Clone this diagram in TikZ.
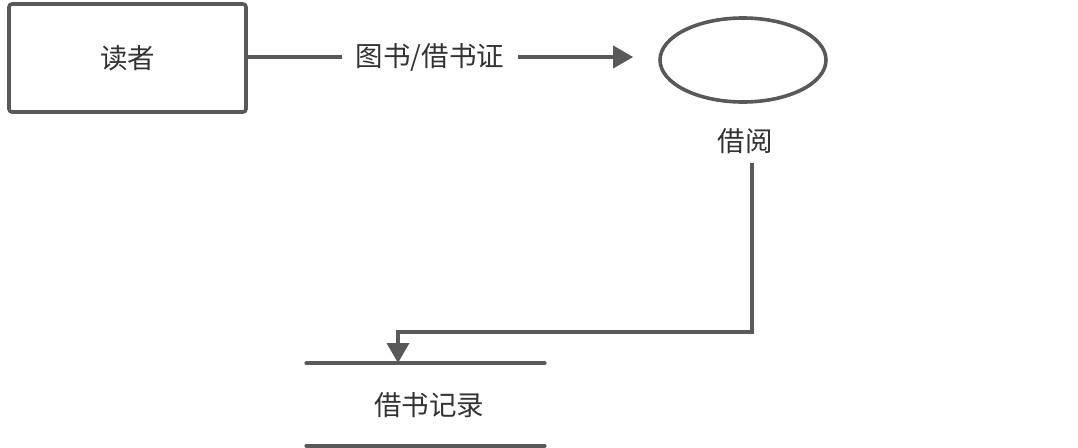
\documentclass[tikz,border=0pt]{standalone}
\usepackage{fontspec}
\setmainfont{Noto Sans CJK SC}
\usepackage{xcolor}
\usetikzlibrary{arrows.meta,positioning,shapes.geometric}
\definecolor{edge}{HTML}{595959}
\definecolor{ink}{HTML}{333333}

\begin{document}
\begin{tikzpicture}[x=1pt,y=-1pt,
    font=\fontsize{27.5}{31}\selectfont,text=ink,
    line width=3.6pt,draw=edge,
    flow/.style={draw=edge,line width=3.6pt,-{Triangle[length=20pt,width=22pt]}}]
  \useasboundingbox (0,0) rectangle (1078,447);
  \node[draw=edge,rounded corners=3pt,minimum width=237pt,minimum height=108pt]
    (reader) at (127.5,58) {读者};
  \node[draw=edge,ellipse,minimum width=166pt,minimum height=84pt]
    (borrow) at (743,60) {};
  \node (borrowlbl) at (745,141) {借阅};
  \node[minimum width=235pt,minimum height=79pt] (store) at (425.5,404.5) {};
  \node (storelbl) at (429,405) {借书记录};
  \draw[draw=edge,line cap=round] (store.north west) -- (store.north east);
  \draw[draw=edge,line cap=round] (store.south west) -- (store.south east);
  % reader hands in books / card
  \draw[flow,shorten >=25pt] (reader.east |- 0,57) -- node[fill=white,text=ink,inner xsep=14pt,pos=0.444]
    {图书/借书证} (borrow.west |- 0,57);
  % record of the loan
  \coordinate (start) at (752,163);
  \coordinate (bend) at (752,332);
  \coordinate (tip) at (398,363);
  \draw[flow] (start) -- (bend) -| (tip);
\end{tikzpicture}
\end{document}
